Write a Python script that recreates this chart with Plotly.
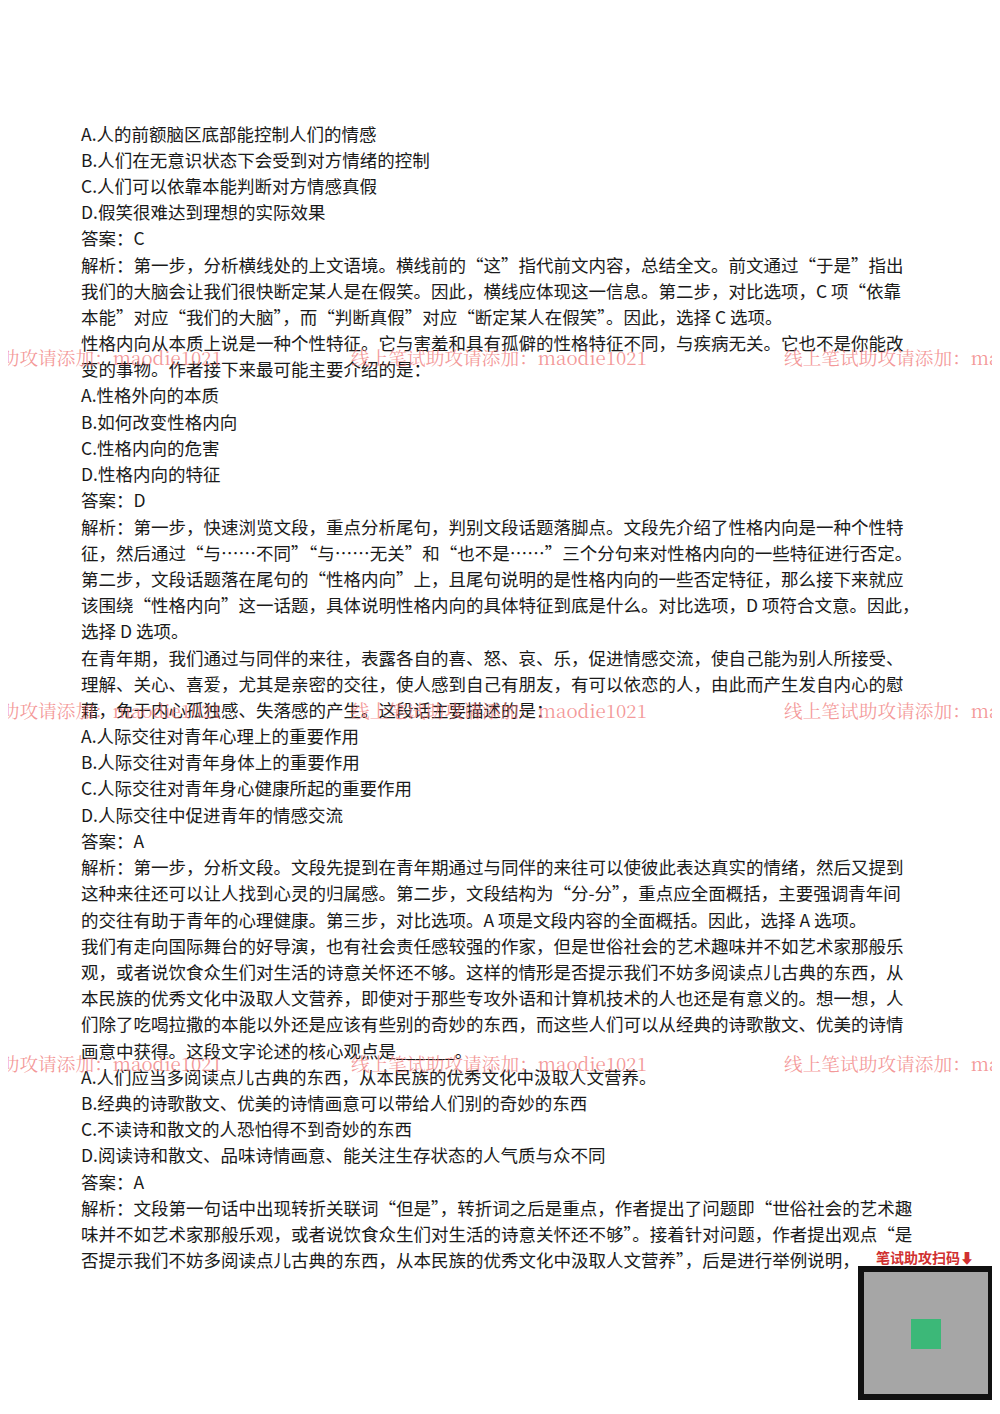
import plotly.graph_objects as go

W, H = 1000, 1414
OX, OY = -9, -9  # compensate page offset
lines = [
"A.人的前额脑区底部能控制人们的情感",
"B.人们在无意识状态下会受到对方情绪的控制",
"C.人们可以依靠本能判断对方情感真假",
"D.假笑很难达到理想的实际效果",
"答案：C",
"解析：第一步，分析横线处的上文语境。横线前的“这”指代前文内容，总结全文。前文通过“于是”指出",
"我们的大脑会让我们很快断定某人是在假笑。因此，横线应体现这一信息。第二步，对比选项，C 项“依靠",
"本能”对应“我们的大脑”，而“判断真假”对应“断定某人在假笑”。因此，选择 C 选项。",
"性格内向从本质上说是一种个性特征。它与害羞和具有孤僻的性格特征不同，与疾病无关。它也不是你能改",
"变的事物。作者接下来最可能主要介绍的是：",
"A.性格外向的本质",
"B.如何改变性格内向",
"C.性格内向的危害",
"D.性格内向的特征",
"答案：D",
"解析：第一步，快速浏览文段，重点分析尾句，判别文段话题落脚点。文段先介绍了性格内向是一种个性特",
"征，然后通过“与……不同”“与……无关”和“也不是……”三个分句来对性格内向的一些特征进行否定。",
"第二步，文段话题落在尾句的“性格内向”上，且尾句说明的是性格内向的一些否定特征，那么接下来就应",
"该围绕“性格内向”这一话题，具体说明性格内向的具体特征到底是什么。对比选项，D 项符合文意。因此，",
"选择 D 选项。",
"在青年期，我们通过与同伴的来往，表露各自的喜、怒、哀、乐，促进情感交流，使自己能为别人所接受、",
"理解、关心、喜爱，尤其是亲密的交往，使人感到自己有朋友，有可以依恋的人，由此而产生发自内心的慰",
"藉，免于内心孤独感、失落感的产生。这段话主要描述的是：",
"A.人际交往对青年心理上的重要作用",
"B.人际交往对青年身体上的重要作用",
"C.人际交往对青年身心健康所起的重要作用",
"D.人际交往中促进青年的情感交流",
"答案：A",
"解析：第一步，分析文段。文段先提到在青年期通过与同伴的来往可以使彼此表达真实的情绪，然后又提到",
"这种来往还可以让人找到心灵的归属感。第二步，文段结构为“分-分”，重点应全面概括，主要强调青年间",
"的交往有助于青年的心理健康。第三步，对比选项。A 项是文段内容的全面概括。因此，选择 A 选项。",
"我们有走向国际舞台的好导演，也有社会责任感较强的作家，但是世俗社会的艺术趣味并不如艺术家那般乐",
"观，或者说饮食众生们对生活的诗意关怀还不够。这样的情形是否提示我们不妨多阅读点儿古典的东西，从",
"本民族的优秀文化中汲取人文营养，即使对于那些专攻外语和计算机技术的人也还是有意义的。想一想，人",
"们除了吃喝拉撒的本能以外还是应该有些别的奇妙的东西，而这些人们可以从经典的诗歌散文、优美的诗情",
"画意中获得。这段文字论述的核心观点是______。",
"A.人们应当多阅读点儿古典的东西，从本民族的优秀文化中汲取人文营养。",
"B.经典的诗歌散文、优美的诗情画意可以带给人们别的奇妙的东西",
"C.不读诗和散文的人恐怕得不到奇妙的东西",
"D.阅读诗和散文、品味诗情画意、能关注生存状态的人气质与众不同",
"答案：A",
"解析：文段第一句话中出现转折关联词“但是”，转折词之后是重点，作者提出了问题即“世俗社会的艺术趣",
"味并不如艺术家那般乐观，或者说饮食众生们对生活的诗意关怀还不够”。接着针对问题，作者提出观点“是",
"否提示我们不妨多阅读点儿古典的东西，从本民族的优秀文化中汲取人文营养”，后是进行举例说明，",
]
wm_text = "线上笔试助攻请添加：maodie1021"
wm_rows = [357, 710, 1063]
wm_cols = [-75, 350, 783]

def px(x): return (x + OX) / W
def py(y): return 1 - (y + OY) / H

fig = go.Figure()
ann = []
for i, t in enumerate(lines):
    y = 134 + i * 26.2
    ann.append(dict(x=px(80), y=py(y), xref="paper", yref="paper", text=t,
                    showarrow=False, xanchor="left", yanchor="middle",
                    font=dict(family="Noto Sans CJK SC", size=17.5, color="#1a1a1a")))
for r in wm_rows:
    for c in wm_cols:
        ann.append(dict(x=px(c), y=py(r), xref="paper", yref="paper", text=wm_text,
                        showarrow=False, xanchor="left", yanchor="middle",
                        font=dict(family="Noto Serif CJK SC, serif", size=18.7, color="rgba(240,120,120,0.75)")))
ann.append(dict(x=px(875), y=py(1258), xref="paper", yref="paper", text="<b>笔试助攻扫码⬇</b>",
                showarrow=False, xanchor="left", yanchor="middle",
                font=dict(family="Noto Sans CJK SC", size=14, color="#d03030")))
fig.update_layout(width=W, height=H, margin=dict(l=0, r=0, t=0, b=0),
                  paper_bgcolor="white", plot_bgcolor="white",
                  xaxis=dict(visible=False, range=[0, 1]), yaxis=dict(visible=False, range=[0, 1]),
                  annotations=ann,
                  shapes=[dict(type="rect", xref="paper", yref="paper",
                               x0=px(862), x1=px(992), y0=py(1398), y1=py(1270),
                               line=dict(color="#111", width=6), fillcolor="rgba(0,0,0,0.35)"),
                          dict(type="rect", xref="paper", yref="paper",
                               x0=px(912), x1=px(942), y0=py(1350), y1=py(1320),
                               line=dict(width=0), fillcolor="#3cb878")])
fig.write_html("out.html")
